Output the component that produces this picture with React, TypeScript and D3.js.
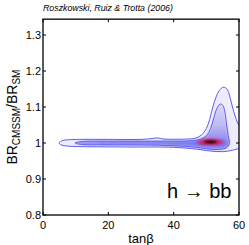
import React from "react";
import * as d3 from "d3";

// contour outlines: [tanβ, BR ratio]
const outerContour: [number, number][] = [
  [4.9, 1.0], [6, 1.007], [8, 1.009], [12, 1.01], [20, 1.01], [30, 1.01], [33, 1.012],
  [35, 1.014], [37, 1.011], [44, 1.011], [46.5, 1.013], [48.5, 1.022], [50, 1.04],
  [51, 1.065], [52, 1.1], [53, 1.128], [54, 1.146], [55.2, 1.155], [56.3, 1.15],
  [57.2, 1.128], [58, 1.1], [58.8, 1.075], [59.6, 1.055], [60.6, 1.04], [60.6, 0.99],
  [58, 0.98], [55, 0.976], [51, 0.978], [47, 0.983], [40, 0.988], [25, 0.989],
  [12, 0.99], [7, 0.992], [5.5, 0.995],
];
const innerContour: [number, number][] = [
  [9.8, 1.0], [12, 1.004], [20, 1.005], [35, 1.005], [45, 1.006], [48, 1.01], [50, 1.02],
  [51.3, 1.04], [52.3, 1.07], [53.2, 1.095], [54.2, 1.108], [55, 1.105], [55.7, 1.085],
  [56.2, 1.05], [56.7, 1.02], [57, 0.998], [56, 0.986], [53, 0.982], [50, 0.984],
  [46, 0.989], [35, 0.994], [20, 0.995], [12, 0.996],
];
// dense core of the band
const bandCore: [number, number][] = [
  [14, 1.0], [20, 1.0015], [40, 1.002], [48, 1.003], [54, 1.004], [56, 1.0],
  [54, 0.994], [48, 0.996], [40, 0.998], [20, 0.9985],
];
// peak blobs: [tanβ, ratio, half-width in tanβ, half-height in ratio]
const redBlob = [51.2, 1.003, 4.6, 0.008];
const blackBlob = [51.3, 1.003, 2.0, 0.0035];

const xTicks = [0, 20, 40, 60];
const yTicks = [0.8, 0.9, 1, 1.1, 1.2, 1.3];

export default function App() {
  const x = d3.scaleLinear().domain([0, 60]).range([43, 239]);
  const y = d3.scaleLinear().domain([0.8, 1.3]).range([215, 35]);
  const top = y(1.344);
  const poly = d3
    .line<[number, number]>()
    .x(d => x(d[0]))
    .y(d => y(d[1]))
    .curve(d3.curveCatmullRomClosed);
  const font = "Liberation Sans, Arial, sans-serif";

  return (
    <svg width={249} height={245} style={{ position: "absolute", left: 0, top: 0 }}>
      <defs>
        <clipPath id="plot">
          <rect x={x(0)} y={top} width={x(60) - x(0)} height={y(0.8) - top} />
        </clipPath>
        <filter id="soft" x="-20%" y="-50%" width="140%" height="200%">
          <feGaussianBlur stdDeviation="1.2" />
        </filter>
        <filter id="soft2" x="-50%" y="-100%" width="200%" height="300%">
          <feGaussianBlur stdDeviation="1.5" />
        </filter>
        <linearGradient id="bump" x1="0" y1={y(1.12)} x2="0" y2={y(1.0)} gradientUnits="userSpaceOnUse">
          <stop offset="0" stopColor="#e2def8" />
          <stop offset="0.6" stopColor="#bdb9f3" />
          <stop offset="1" stopColor="#8884ec" />
        </linearGradient>
      </defs>
      <rect width={249} height={245} fill="#fff" />
      <g clipPath="url(#plot)">
        <path d={poly(outerContour) ?? ""} fill="#eeebfb" filter="url(#soft)" />
        <path d={poly(innerContour) ?? ""} fill="url(#bump)" filter="url(#soft)" />
        <path d={poly(bandCore) ?? ""} fill="#7774ea" filter="url(#soft)" />
        <ellipse
          cx={x(redBlob[0])} cy={y(redBlob[1])}
          rx={x(redBlob[2]) - x(0)} ry={y(1) - y(1 + redBlob[3])}
          fill="#b0289a" opacity={0.7} filter="url(#soft2)"
        />
        <ellipse
          cx={x(redBlob[0])} cy={y(redBlob[1])}
          rx={(x(redBlob[2]) - x(0)) * 0.75} ry={(y(1) - y(1 + redBlob[3])) * 0.75}
          fill="#f0102e" filter="url(#soft2)"
        />
        <ellipse
          cx={x(blackBlob[0])} cy={y(blackBlob[1])}
          rx={x(blackBlob[2]) - x(0)} ry={y(1) - y(1 + blackBlob[3])}
          fill="#000" filter="url(#soft)"
        />
        <path d={poly(outerContour) ?? ""} fill="none" stroke="#5c5cf6" strokeWidth={1} />
        <path d={poly(innerContour) ?? ""} fill="none" stroke="#5c5cf6" strokeWidth={1} />
      </g>
      {/* axes box */}
      <rect x={x(0)} y={top} width={x(60) - x(0)} height={y(0.8) - top} fill="none" stroke="#000" strokeWidth={1.3} />
      {xTicks.map(t => (
        <g key={t}>
          <line x1={x(t)} x2={x(t)} y1={y(0.8)} y2={y(0.8) - 3} stroke="#000" />
          <line x1={x(t)} x2={x(t)} y1={top} y2={top + 3} stroke="#000" />
          <text x={x(t)} y={229} textAnchor="middle" fontFamily={font} fontSize={11}>{t}</text>
        </g>
      ))}
      {yTicks.map(t => (
        <g key={t}>
          <line x1={x(0)} x2={x(0) + 3} y1={y(t)} y2={y(t)} stroke="#000" />
          <line x1={x(60)} x2={x(60) - 3} y1={y(t)} y2={y(t)} stroke="#000" />
          <text x={41} y={y(t) + 4} textAnchor="end" fontFamily={font} fontSize={11}>{d3.format("")(t)}</text>
        </g>
      ))}
      <text x={43} y={11} fontFamily={font} fontSize={8.8} fontStyle="italic">Roszkowski, Ruiz &amp; Trotta (2006)</text>
      <text x={141} y={243} textAnchor="middle" fontFamily={font} fontSize={13}>tanβ</text>
      <text transform={`translate(17,${(top + y(0.8)) / 2}) rotate(-90)`} textAnchor="middle" fontFamily={font} fontSize={14}>
        BR<tspan fontSize={10} dy={3}>CMSSM</tspan>
        <tspan dy={-3}>/BR</tspan>
        <tspan fontSize={10} dy={3}>SM</tspan>
      </text>
      <text x={167} y={198} fontFamily={font} fontSize={20}>h → bb</text>
    </svg>
  );
}
